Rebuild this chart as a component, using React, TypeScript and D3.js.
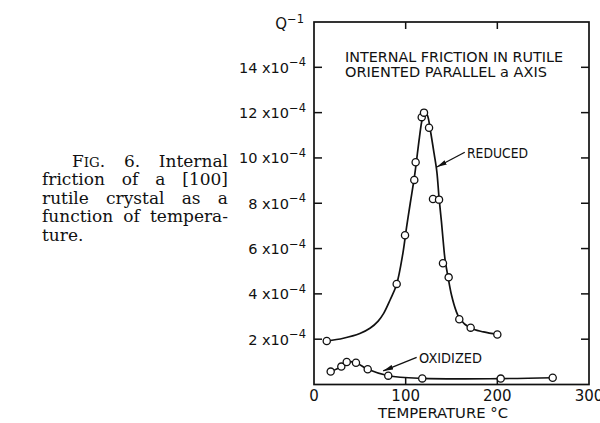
import React, { useEffect, useRef } from 'react'
import * as d3 from 'd3'

// ticks
const tempTicks = [0, 100, 200, 300]
const qTicks = [2, 4, 6, 8, 10, 12, 14]

// measured points, reduced sample (Q^-1 in units of 1e-4)
const reducedT = [13.9, 90.2, 99.3, 109.4, 110.9, 117.5, 120, 125.5, 129.8, 136.4, 140.7, 146.9, 158.5, 170.9, 200]
const reducedQ = [1.92, 4.44, 6.59, 9.03, 9.81, 11.8, 12.0, 11.33, 8.19, 8.16, 5.35, 4.73, 2.88, 2.51, 2.21]

// hand drawn curve through the reduced points
const reducedFitT = [13.9, 32, 50, 61, 70, 76, 83, 90, 97, 101, 105, 110, 115, 118, 121, 124, 127, 131, 134, 136.5, 139, 141, 143, 146, 150, 155, 159, 170, 185, 200]
const reducedFitQ = [1.92, 2.04, 2.25, 2.48, 2.8, 3.14, 3.73, 4.4, 5.8, 6.95, 8.0, 9.3, 10.9, 11.7, 12.05, 11.85, 11.2, 10.2, 9.4, 8.2, 7.2, 6.3, 5.5, 4.8, 3.95, 3.25, 2.9, 2.5, 2.32, 2.21]

// measured points, oxidized sample
const oxidizedT = [18.2, 29.8, 35.7, 45.8, 58.6, 81, 118.1, 203.7, 260.4]
const oxidizedQ = [0.57, 0.79, 0.99, 0.96, 0.67, 0.39, 0.27, 0.26, 0.3]

const captionLines = [
  ['FIG.', '6.', 'Internal'],
  ['friction', 'of', 'a', '[100]'],
  ['rutile', 'crystal', 'as', 'a'],
  ['function', 'of', 'tempera-'],
  ['ture.']
]

const lettering = '"DejaVu Sans", Arial, sans-serif'

function App() {
  const ref = useRef<SVGSVGElement>(null)

  useEffect(() => {
    const svg = d3.select(ref.current)
    svg.selectAll('*').remove()

    const left = 314,
      right = 589,
      top = 22,
      bottom = 384.5

    const x = d3.scaleLinear().domain([0, 300]).range([left, right])
    const y = d3.scaleLinear().domain([0, 16]).range([bottom, top])

    svg.append('rect').attr('width', 600).attr('height', 423).attr('fill', '#fff')

    // arrow head
    svg
      .append('defs')
      .append('marker')
      .attr('id', 'arrow')
      .attr('viewBox', '0 0 10 6')
      .attr('refX', 10)
      .attr('refY', 3)
      .attr('markerWidth', 10)
      .attr('markerHeight', 6)
      .attr('markerUnits', 'userSpaceOnUse')
      .attr('orient', 'auto')
      .append('path')
      .attr('d', 'M0,0.6L10,3L0,5.4Z')
      .attr('fill', '#111')

    const g = svg.append('g').attr('stroke', '#111').attr('fill', 'none')

    // frame
    g.append('rect')
      .attr('x', left)
      .attr('y', y(16))
      .attr('width', right - left)
      .attr('height', bottom - y(16))
      .attr('stroke-width', 1.7)

    // y ticks both sides, inward
    qTicks.forEach(function(v) {
      g.append('line').attr('x1', left).attr('x2', left + 8).attr('y1', y(v)).attr('y2', y(v)).attr('stroke-width', 1.5)
      g.append('line').attr('x1', right).attr('x2', right - 8).attr('y1', y(v)).attr('y2', y(v)).attr('stroke-width', 1.5)
    })
    // x ticks top and bottom, inward
    tempTicks.slice(1, 3).forEach(function(v) {
      g.append('line').attr('x1', x(v)).attr('x2', x(v)).attr('y1', bottom).attr('y2', bottom - 7).attr('stroke-width', 1.5)
      g.append('line').attr('x1', x(v)).attr('x2', x(v)).attr('y1', y(16)).attr('y2', y(16) + 7).attr('stroke-width', 1.5)
    })

    const txt = svg.append('g').attr('fill', '#111').style('font-family', lettering)

    // y labels
    qTicks.forEach(function(v) {
      const t = txt
        .append('text')
        .attr('x', 306)
        .attr('y', y(v) + 5.5)
        .attr('text-anchor', 'end')
        .attr('font-size', 14.5)
      t.append('tspan').text(v + ' x10')
      t.append('tspan').attr('dy', -6.5).attr('font-size', 11.5).text('\u22124')
    })
    const ql = txt.append('text').attr('x', 304).attr('y', 29).attr('text-anchor', 'end').attr('font-size', 15)
    ql.append('tspan').text('Q')
    ql.append('tspan').attr('dy', -6.5).attr('font-size', 11.5).text('\u22121')

    // x labels
    tempTicks.forEach(function(v) {
      txt
        .append('text')
        .attr('x', x(v))
        .attr('y', 401)
        .attr('text-anchor', 'middle')
        .attr('font-size', 15)
        .text(v)
    })
    txt
      .append('text')
      .attr('x', 378)
      .attr('y', 418)
      .attr('font-size', 14)
      .attr('textLength', 130)
      .attr('lengthAdjust', 'spacingAndGlyphs')
      .text('TEMPERATURE \u00B0C')

    // title
    txt
      .append('text')
      .attr('x', 345)
      .attr('y', 62)
      .attr('font-size', 14.5)
      .attr('textLength', 218)
      .attr('lengthAdjust', 'spacingAndGlyphs')
      .text('INTERNAL FRICTION IN RUTILE')
    txt
      .append('text')
      .attr('x', 345)
      .attr('y', 76.5)
      .attr('font-size', 14.5)
      .attr('textLength', 202)
      .attr('lengthAdjust', 'spacingAndGlyphs')
      .text('ORIENTED PARALLEL a AXIS')

    // curves
    const line = d3
      .line<[number, number]>()
      .x(d => x(d[0]))
      .y(d => y(d[1]))
      .curve(d3.curveCatmullRom.alpha(0.5))

    g.append('path')
      .attr('d', line(reducedFitT.map((t, i) => [t, reducedFitQ[i]] as [number, number])))
      .attr('stroke-width', 1.7)

    g.append('path')
      .attr('d', line(oxidizedT.map((t, i) => [t, oxidizedQ[i]] as [number, number])))
      .attr('stroke-width', 1.6)

    // markers
    const pts = reducedT
      .map((t, i) => [t, reducedQ[i]])
      .concat(oxidizedT.map((t, i) => [t, oxidizedQ[i]]))
    g.selectAll('circle.pt')
      .data(pts)
      .enter()
      .append('circle')
      .attr('class', 'pt')
      .attr('cx', d => x(d[0]))
      .attr('cy', d => y(d[1]))
      .attr('r', 3.6)
      .attr('fill', '#fff')
      .attr('stroke-width', 1.3)

    // annotations
    g.append('line')
      .attr('x1', x(164.5))
      .attr('y1', y(10.25))
      .attr('x2', x(134))
      .attr('y2', y(9.6))
      .attr('stroke-width', 1.3)
      .attr('marker-end', 'url(#arrow)')
    txt
      .append('text')
      .attr('x', 467)
      .attr('y', 158)
      .attr('font-size', 14.5)
      .attr('textLength', 61)
      .attr('lengthAdjust', 'spacingAndGlyphs')
      .text('REDUCED')

    g.append('line')
      .attr('x1', x(112))
      .attr('y1', y(1.2))
      .attr('x2', x(75.5))
      .attr('y2', y(0.6))
      .attr('stroke-width', 1.3)
      .attr('marker-end', 'url(#arrow)')
    txt
      .append('text')
      .attr('x', 419)
      .attr('y', 363)
      .attr('font-size', 14.5)
      .attr('textLength', 63)
      .attr('lengthAdjust', 'spacingAndGlyphs')
      .text('OXIDIZED')

    // caption, justified by hand
    const cap = svg
      .append('g')
      .attr('fill', '#111')
      .style('font-family', '"DejaVu Serif", "Liberation Serif", serif')
      .attr('font-size', 17)
    const capLeft = 42,
      capRight = 228
    captionLines.forEach(function(words, li) {
      const base = 166.5 + li * 18.6
      const startX = li === 0 ? 72 : capLeft
      const nodes = words.map(function(w) {
        const t = cap.append('text').attr('y', base)
        if (w === 'FIG.') {
          t.append('tspan').text('F')
          t.append('tspan').attr('font-size', 13.4).text('IG')
          t.append('tspan').text('.')
        } else {
          t.text(w)
        }
        return t
      })
      const widths = nodes.map(n => (n.node() as SVGTextElement).getComputedTextLength())
      const total = d3.sum(widths)
      const justify = li < captionLines.length - 1
      const gap = justify ? (capRight - startX - total) / (words.length - 1) : 4
      let cx = startX
      nodes.forEach(function(n, i) {
        n.attr('x', cx)
        cx += widths[i] + gap
      })
    })
  }, [])

  return (
    <svg
      ref={ref}
      width={600}
      height={423}
      style={{ position: 'absolute', left: 0, top: 0, display: 'block' }}
    />
  )
}

export default App
